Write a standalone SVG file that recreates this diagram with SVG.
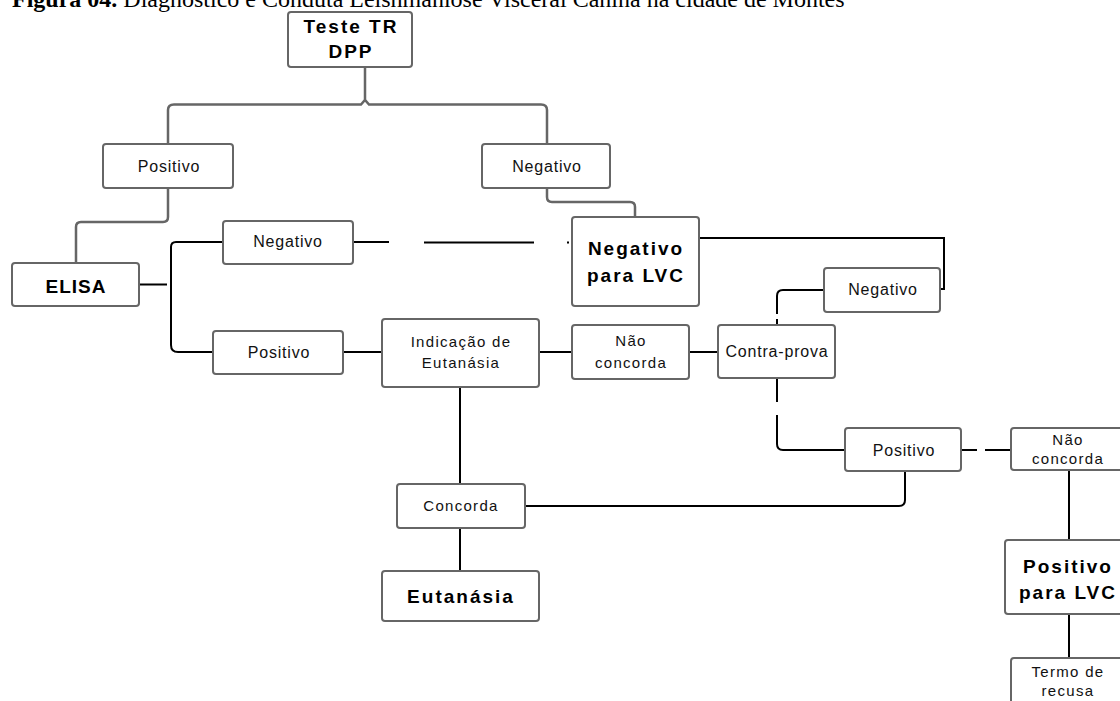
<svg xmlns="http://www.w3.org/2000/svg" width="1120" height="701" viewBox="0 0 1120 701">
<style>
.box{fill:#fff;stroke:#666;stroke-width:2}
.t{font-family:"Liberation Sans",Arial,sans-serif;font-size:16px;letter-spacing:0.8px;fill:#111;text-anchor:middle}
.m{font-family:"Liberation Sans",Arial,sans-serif;font-size:15px;letter-spacing:1.3px;fill:#111;text-anchor:middle}
.b{font-family:"Liberation Sans",Arial,sans-serif;font-size:19px;letter-spacing:2px;font-weight:bold;fill:#000;text-anchor:middle}
.g{fill:none;stroke:#666;stroke-width:2.5}
.k{fill:none;stroke:#000;stroke-width:2}
</style>
<rect width="1120" height="701" fill="#fff"/>
<text x="12" y="7" font-family="Liberation Serif,Times New Roman,serif" font-size="24" fill="#000"><tspan font-weight="bold">Figura 04.</tspan> Diagnóstico e Conduta Leishmaniose Visceral Canina na cidade de Montes</text>
<g id="connectors">
<path class="g" d="M365 67 V101 M168 144 V110 Q168 104.5 174 104.5 H361 L365 100 L369 104.5 H541 Q547 104.5 547 110 V144"/>
<path class="g" d="M168 188 V217 Q168 222 163 222 H81 Q76 222 76 227 V263"/>
<path class="g" d="M547 188 V197 Q547 202 552 202 H630 Q635 202 635 207 V217"/>
<path class="k" d="M139 284.5 H167 M224 242 H176 Q171 242 171 247 V345 Q171 352 178 352 H213"/>
<path class="k" d="M353 242 H389 M424 242.5 H534 M567 242.5 H569" stroke="#333"/>
<path class="k" d="M699 238 H944 V289 H940"/>
<path class="k" d="M824 290 H783 Q777 290 777 296 V314 M777 319 V325"/>
<path class="k" d="M343 352 H382 M539 352 H572 M689 352 H718"/>
<path class="k" d="M777 378 V402 M777 415 V444 Q777 450 783 450 H845"/>
<path class="k" d="M961 450 H977 M985 450 H1011"/>
<path class="k" d="M460 387 V484 M460 528 V571 M525 506 H899 Q905 506 905 500 V471"/>
<path class="k" d="M1069 470 V540 M1069 614 V658" stroke-width="2.5"/>
</g>
<g id="teste"><rect class="box" x="288" y="12" width="124" height="55" rx="3"/><text class="b" x="351" y="33">Teste TR</text><text class="b" x="351" y="58">DPP</text></g>
<g id="positivo1"><rect class="box" x="103" y="144" width="130" height="44" rx="3"/><text class="t" x="169" y="172">Positivo</text></g>
<g id="negativo1"><rect class="box" x="482" y="144" width="128" height="44" rx="3"/><text class="t" x="547" y="172">Negativo</text></g>
<g id="elisa"><rect class="box" x="12" y="263" width="127" height="43" rx="3"/><text class="b" x="76" y="293" font-size="21" style="letter-spacing:1px">ELISA</text></g>
<g id="negativo2"><rect class="box" x="223" y="221" width="130" height="43" rx="3"/><text class="t" x="288" y="247">Negativo</text></g>
<g id="negLVC"><rect class="box" x="572" y="217" width="127" height="89" rx="3"/><text class="b" x="636" y="255">Negativo</text><text class="b" x="636" y="282">para LVC</text></g>
<g id="negativo3"><rect class="box" x="824" y="268" width="116" height="44" rx="3"/><text class="t" x="883" y="295">Negativo</text></g>
<g id="positivo2"><rect class="box" x="213" y="331" width="130" height="43" rx="3"/><text class="t" x="279" y="358">Positivo</text></g>
<g id="indicacao"><rect class="box" x="382" y="319" width="157" height="68" rx="3"/><text class="m" x="461" y="347">Indicação de</text><text class="m" x="461" y="368">Eutanásia</text></g>
<g id="naoconcorda1"><rect class="box" x="572" y="325" width="117" height="54" rx="3"/><text class="m" x="631" y="346">Não</text><text class="m" x="631" y="368">concorda</text></g>
<g id="contraprova"><rect class="box" x="718" y="325" width="117" height="53" rx="3"/><text class="t" x="777" y="357">Contra-prova</text></g>
<g id="positivo3"><rect class="box" x="845" y="428" width="116" height="43" rx="3"/><text class="t" x="904" y="456">Positivo</text></g>
<g id="naoconcorda2"><rect class="box" x="1011" y="428" width="114" height="42" rx="3"/><text class="m" x="1068" y="445">Não</text><text class="m" x="1068" y="464">concorda</text></g>
<g id="concorda"><rect class="box" x="397" y="484" width="128" height="44" rx="3"/><text class="m" x="461" y="511">Concorda</text></g>
<g id="eutanasia"><rect class="box" x="382" y="571" width="157" height="50" rx="3"/><text class="b" x="461" y="603">Eutanásia</text></g>
<g id="posLVC"><rect class="box" x="1005" y="540" width="120" height="74" rx="3"/><text class="b" x="1068" y="573">Positivo</text><text class="b" x="1068" y="599">para LVC</text></g>
<g id="termo"><rect class="box" x="1011" y="658" width="114" height="50" rx="3"/><text class="m" x="1068" y="677">Termo de</text><text class="m" x="1068" y="696">recusa</text></g>
</svg>
